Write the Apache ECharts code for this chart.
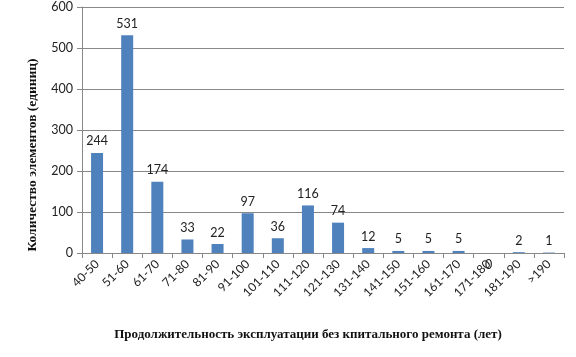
<!DOCTYPE html>
<html><head><meta charset="utf-8">
<script src="https://cdn.jsdelivr.net/npm/echarts@6/dist/echarts.min.js"></script>
<style>html,body{margin:0;padding:0;background:#fff}#c{width:576px;height:357px}</style>
</head><body><div id="c"></div>
<script>
const categories = ['40-50','51-60','61-70','71-80','81-90','91-100','101-110','111-120','121-130','131-140','141-150','151-160','161-170','171-180','181-190','>190'];
const values = [244,531,174,33,22,97,36,116,74,12,5,5,5,0,2,1];
const yTicks = {min:0, max:600, interval:100};
const xTitle = 'Продолжительность эксплуатации без кпитального ремонта (лет)';
const yTitle = 'Количество элементов (единиц)';

const chart = echarts.init(document.getElementById('c'), null, {renderer:'canvas'});
chart.setOption({
  animation:false,
  backgroundColor:'#fff',
  grid:{left:82, right:12, top:7, bottom:104, containLabel:false},
  graphic:[{
    type:'text', x:33, y:155, rotation:Math.PI/2,
    style:{text:yTitle, align:'center', verticalAlign:'middle',
      font:'bold 13.5px "Liberation Serif"', fill:'#111'}
  }],
  xAxis:{
    type:'category', data:categories,
    axisLine:{lineStyle:{color:'#888', width:1}},
    axisTick:{show:true, length:5, alignWithLabel:false, lineStyle:{color:'#888'}},
    axisLabel:{rotate:45, interval:0, color:'#222', fontFamily:'Lato', fontSize:12, margin:9},
    name:xTitle, nameLocation:'middle', nameGap:75,
    nameTextStyle:{fontFamily:'Liberation Serif', fontWeight:'bold', fontSize:13, color:'#111', padding:[0,30,0,0]}
  },
  yAxis:{
    type:'value', min:yTicks.min, max:yTicks.max, interval:yTicks.interval,
    axisLine:{show:true, lineStyle:{color:'#888'}},
    axisTick:{show:true, length:5, lineStyle:{color:'#888'}},
    splitLine:{lineStyle:{color:'#888', width:1}},
    axisLabel:{color:'#222', fontFamily:'Lato', fontSize:12.5, margin:9}
  },
  series:[{
    type:'bar',
    data:values.map(v => v === 0 ? {value:v, label:{offset:[0,23]}} : v),
    barWidth:12,
    itemStyle:{color:'#4f81bd'},
    label:{show:true, position:'top', distance:5, color:'#222', fontFamily:'Lato', fontSize:12.5}
  }]
});
</script></body></html>
